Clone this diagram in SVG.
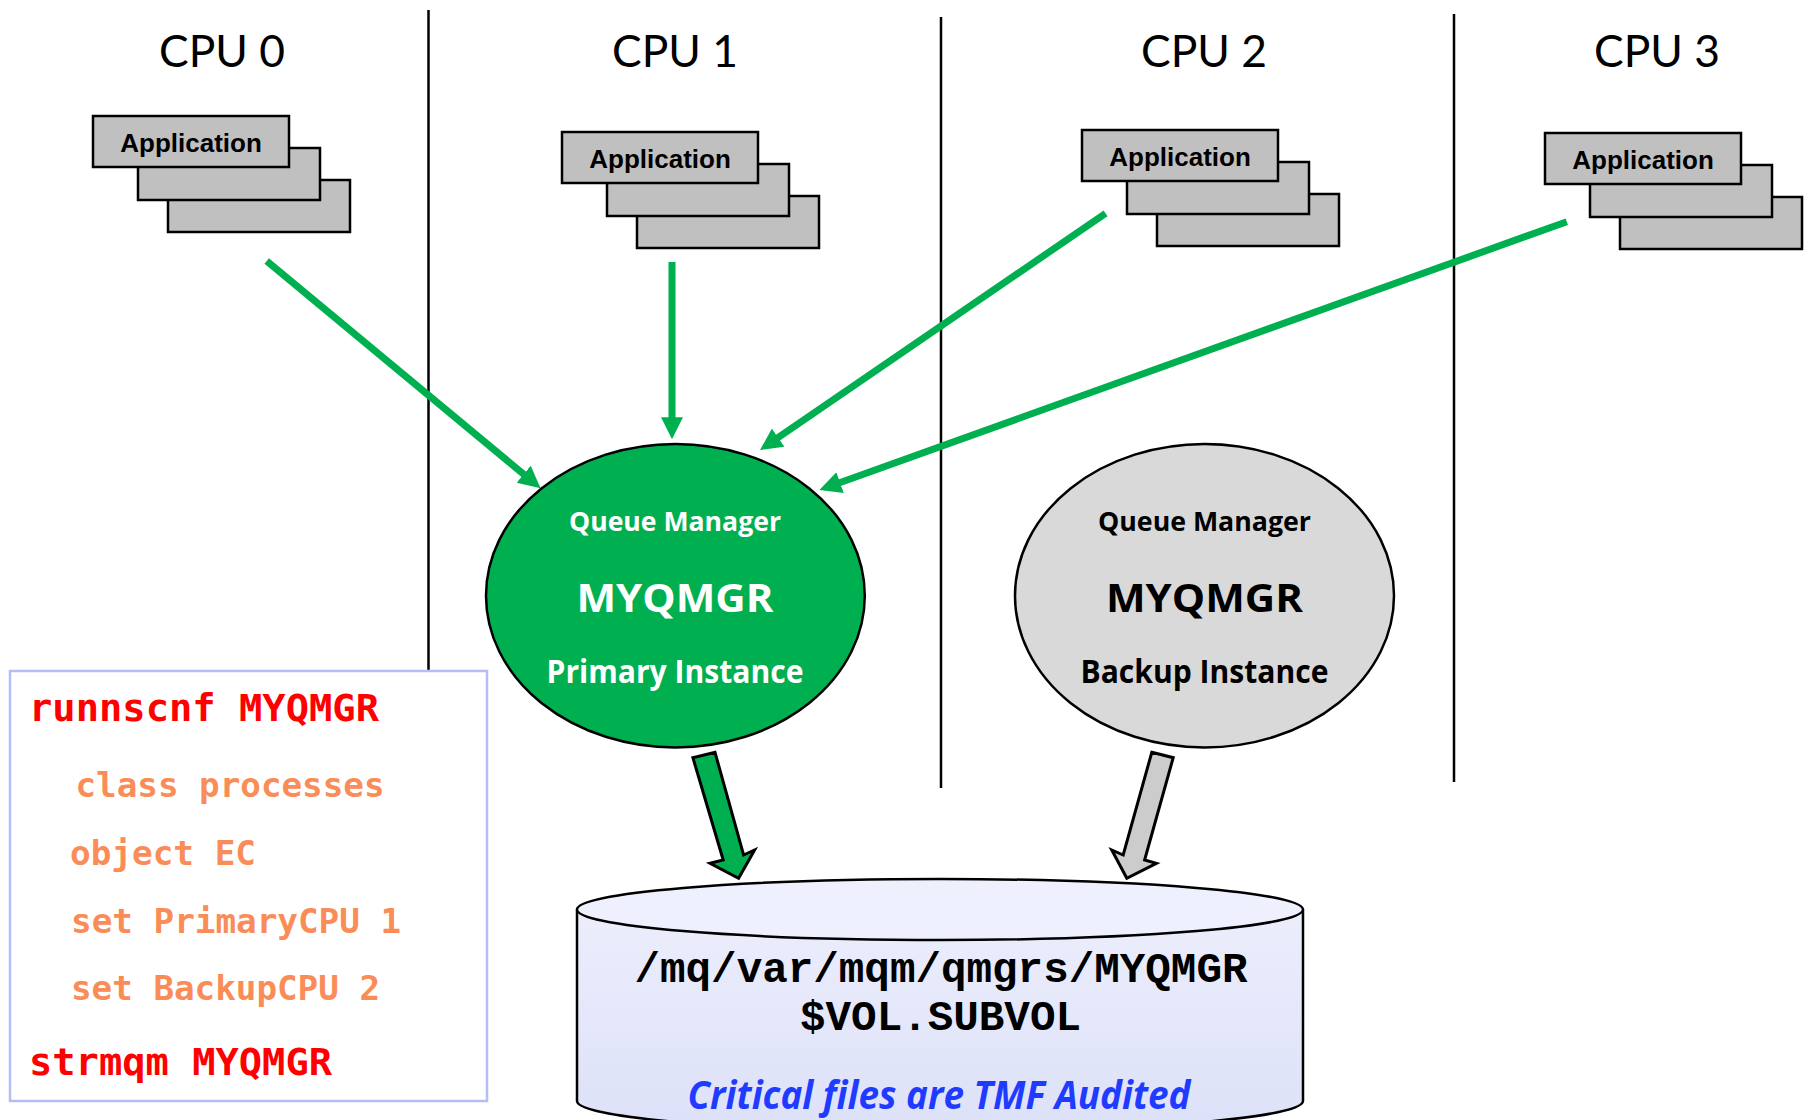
<svg xmlns="http://www.w3.org/2000/svg" width="1808" height="1120" viewBox="0 0 1808 1120">
  <style>
    .cpu { font-family: Lato, "Open Sans", sans-serif; font-size: 44px; fill: #000; text-anchor: middle; }
    .divider { stroke: #000; stroke-width: 2.5; }
    .app { fill: #C0C0C0; stroke: #000; stroke-width: 2.5; }
    .app-label { font-family: "Liberation Sans", Arial, sans-serif; font-weight: bold; font-size: 26px; fill: #000; text-anchor: middle; }
    .flow { stroke: #00B050; stroke-width: 7; fill: none; }
    .qm-small { font-family: "Open Sans", Lato, sans-serif; font-weight: bold; font-size: 26.5px; text-anchor: middle; }
    .qm-name { font-family: "Open Sans", Lato, sans-serif; font-weight: bold; font-size: 40px; text-anchor: middle; }
    .qm-role { font-family: "Open Sans", Lato, sans-serif; font-weight: bold; font-size: 31.5px; text-anchor: middle; }
    .block { stroke: #000; stroke-width: 3; stroke-linejoin: miter; }
    .disk-path { font-family: "Liberation Mono", "Courier New", monospace; font-weight: bold; font-size: 42px; fill: #000; text-anchor: middle; }
    .disk-note { font-family: "Open Sans", Lato, sans-serif; font-weight: bold; font-style: italic; font-size: 40px; fill: #1F3BFF; text-anchor: middle; }
    .cmd { font-family: "DejaVu Sans Mono", "Liberation Mono", monospace; font-weight: bold; font-size: 37px; fill: #FF0000; }
    .opt { font-family: "DejaVu Sans Mono", "Liberation Mono", monospace; font-weight: bold; font-size: 34px; fill: #FA8C58; }
  </style>
  <defs>
    <marker id="head" markerUnits="userSpaceOnUse" markerWidth="24" markerHeight="24" viewBox="0 -12 24 24" refX="2" refY="0" orient="auto">
      <path d="M0,-11 L22,0 L0,11 Z" fill="#00B050"/>
    </marker>
    <linearGradient id="diskBody" x1="0" y1="0" x2="0" y2="1">
      <stop offset="0" stop-color="#ECEEFC"/>
      <stop offset="1" stop-color="#DDE1F8"/>
    </linearGradient>
    <g id="stack">
      <rect class="app" x="75" y="64" width="182" height="52"/>
      <rect class="app" x="45" y="32" width="182" height="52"/>
      <rect class="app" x="0" y="0" width="196" height="51"/>
    </g>
  </defs>

  <rect width="1808" height="1120" fill="#fff"/>

  <!-- CPU column dividers -->
  <g id="dividers">
    <line class="divider" x1="428.5" y1="10" x2="428.5" y2="670"/>
    <line class="divider" x1="941" y1="17" x2="941" y2="788"/>
    <line class="divider" x1="1454" y1="14" x2="1454" y2="782"/>
  </g>

  <!-- CPU headings -->
  <g id="cpu-labels">
    <text class="cpu" x="222" y="67" textLength="126" lengthAdjust="spacingAndGlyphs">CPU 0</text>
    <text class="cpu" x="675" y="67" textLength="126" lengthAdjust="spacingAndGlyphs">CPU 1</text>
    <text class="cpu" x="1204" y="67" textLength="126" lengthAdjust="spacingAndGlyphs">CPU 2</text>
    <text class="cpu" x="1657" y="67" textLength="126" lengthAdjust="spacingAndGlyphs">CPU 3</text>
  </g>

  <!-- Application process stacks -->
  <g id="app-cpu0" transform="translate(93,116)">
    <use href="#stack"/>
    <text class="app-label" x="98" y="36">Application</text>
  </g>
  <g id="app-cpu1" transform="translate(562,132)">
    <use href="#stack"/>
    <text class="app-label" x="98" y="36">Application</text>
  </g>
  <g id="app-cpu2" transform="translate(1082,130)">
    <use href="#stack"/>
    <text class="app-label" x="98" y="36">Application</text>
  </g>
  <g id="app-cpu3" transform="translate(1545,133)">
    <use href="#stack"/>
    <text class="app-label" x="98" y="36">Application</text>
  </g>

  <!-- Connectors -->
  <g id="connectors">
    <line class="flow" x1="266.7" y1="261" x2="525.2" y2="475.5" marker-end="url(#head)"/>
    <line class="flow" x1="672" y1="262" x2="672" y2="419.3" marker-end="url(#head)"/>
    <line class="flow" x1="1105.6" y1="213.3" x2="776.5" y2="438.7" marker-end="url(#head)"/>
    <line class="flow" x1="1566.8" y1="221.7" x2="838.2" y2="483.2" marker-end="url(#head)"/>
    <polygon class="block" fill="#00B050" points="692.9,757.7 715,752.3 743.6,855 754.6,850 738.6,878.3 710,863.3 723.2,860"/>
    <polygon class="block" fill="#CCCCCC" points="1151.8,752.3 1173.2,757.7 1144.6,860 1156.4,863.3 1126.8,878.3 1111.8,850 1123.2,855"/>
  </g>

  <!-- Primary queue manager -->
  <g id="qm-primary">
    <ellipse cx="675.4" cy="595.7" rx="189.4" ry="151.7" fill="#00B050" stroke="#000" stroke-width="2.5"/>
    <text class="qm-small" x="675" y="530.5" fill="#fff" textLength="212" lengthAdjust="spacingAndGlyphs">Queue Manager</text>
    <text class="qm-name" x="675" y="611.5" fill="#fff" textLength="197" lengthAdjust="spacingAndGlyphs">MYQMGR</text>
    <text class="qm-role" x="675" y="683" fill="#fff" textLength="257" lengthAdjust="spacingAndGlyphs">Primary Instance</text>
  </g>

  <!-- Backup queue manager -->
  <g id="qm-backup">
    <ellipse cx="1204.5" cy="595.7" rx="189.5" ry="151.7" fill="#D9D9D9" stroke="#000" stroke-width="2.5"/>
    <text class="qm-small" x="1204.5" y="530.5" fill="#000" textLength="213" lengthAdjust="spacingAndGlyphs">Queue Manager</text>
    <text class="qm-name" x="1204.5" y="611.5" fill="#000" textLength="197" lengthAdjust="spacingAndGlyphs">MYQMGR</text>
    <text class="qm-role" x="1204.5" y="683" fill="#000" textLength="248" lengthAdjust="spacingAndGlyphs">Backup Instance</text>
  </g>

  <!-- Shared disk volume -->
  <g id="disk">
    <path d="M577,909.5 L577,1101 A363,30.5 0 0 0 1303,1101 L1303,909.5" fill="url(#diskBody)" stroke="#000" stroke-width="2.5"/>
    <ellipse cx="940" cy="909.5" rx="363" ry="30.5" fill="#EEF0FD" stroke="#000" stroke-width="2.5"/>
    <text class="disk-path" x="941" y="981.5" textLength="613" lengthAdjust="spacingAndGlyphs">/mq/var/mqm/qmgrs/MYQMGR</text>
    <text class="disk-path" x="940.5" y="1030" textLength="281" lengthAdjust="spacingAndGlyphs">$VOL.SUBVOL</text>
    <text class="disk-note" x="939" y="1109" textLength="503" lengthAdjust="spacingAndGlyphs">Critical files are TMF Audited</text>
  </g>

  <!-- Configuration commands -->
  <g id="config">
    <rect x="10" y="671" width="477" height="430" fill="#fff" stroke="#B4BEF5" stroke-width="2.5"/>
    <text class="cmd" x="29" y="721" textLength="350" lengthAdjust="spacingAndGlyphs">runnscnf MYQMGR</text>
    <text class="opt" x="75.5" y="796.5" textLength="309" lengthAdjust="spacingAndGlyphs">class processes</text>
    <text class="opt" x="70" y="865" textLength="186" lengthAdjust="spacingAndGlyphs">object EC</text>
    <text class="opt" x="71" y="933" textLength="330" lengthAdjust="spacingAndGlyphs">set PrimaryCPU 1</text>
    <text class="opt" x="71" y="1000" textLength="309" lengthAdjust="spacingAndGlyphs">set BackupCPU 2</text>
    <text class="cmd" x="29" y="1075" textLength="303" lengthAdjust="spacingAndGlyphs">strmqm MYQMGR</text>
  </g>
</svg>
